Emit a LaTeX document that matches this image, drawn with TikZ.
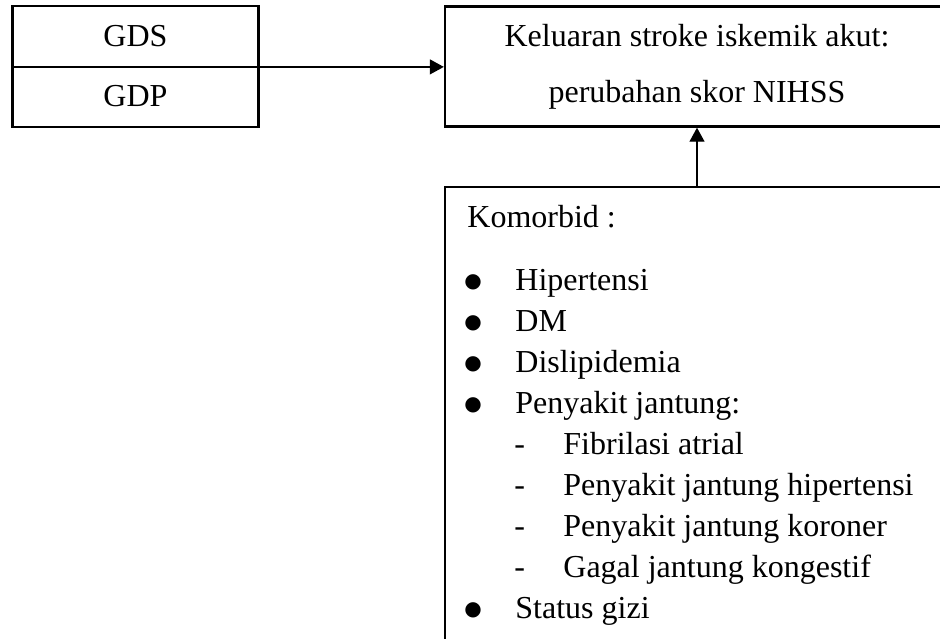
\documentclass[tikz,border=0pt]{standalone}
\usepackage{fontspec}
\setmainfont{Liberation Serif}
\newfontfamily\symfont{DejaVu Sans}
\usetikzlibrary{arrows.meta}

\tikzset{
  boxline/.style={draw, line width=1.2pt},
  txt/.style={inner sep=0pt, font=\fontsize{16}{19}\selectfont},
  bulletmark/.style={inner sep=0pt, anchor=center, font=\symfont\fontsize{10}{12}\selectfont},
  arr/.style={line width=0.6pt, -{Triangle[length=7pt,width=7.5pt]}}
}

\begin{document}
\begin{tikzpicture}[x=0.5pt,y=-0.5pt]

\useasboundingbox (0,0) rectangle (940,638);
\fill[white] (0,0) rectangle (940,638);
\clip (0,0) rectangle (940,638);

% gula darah
\node[txt, minimum width=122.5pt, minimum height=30pt] (gds) at (135.5,36.5) {GDS};
\node[txt, minimum width=122.5pt, minimum height=30pt] (gdp) at (135.5,96.5) {GDP};
\draw[boxline] (gds.north west) rectangle (gdp.south east);
\draw[line width=0.6pt] (gds.south west) -- (gds.south east);

% keluaran
\node[txt, boxline, minimum width=252pt, minimum height=60pt, align=center,
      font=\fontsize{16}{28}\selectfont] (outcome) at (697,66.5)
  {Keluaran stroke iskemik akut:\\perubahan skor NIHSS};

% komorbid
\node[boxline, minimum width=252pt, minimum height=240pt] (como) at (697,427) {};

\draw[arr] (gds.south east) -- (gds.south east -| outcome.west);
\draw[arr] (como.north) -- (outcome.south);

\node[txt, anchor=base west] (komorbid) at (467,227) {Komorbid :};

\foreach \i/\lbl in {0/Hipertensi, 1/DM, 2/Dislipidemia, 3/{Penyakit jantung:}, 8/{Status gizi}} {
  \node[bulletmark] (bul\i) at (473,{282+41*\i}) {●};
  \node[txt, anchor=base west] (item\i) at (515,{290+41*\i}) {\lbl};
}

\foreach \i/\lbl in {4/{Fibrilasi atrial}, 5/{Penyakit jantung hipertensi},
                     6/{Penyakit jantung koroner}, 7/{Gagal jantung kongestif}} {
  \node[txt, anchor=base west] (dash\i) at (514,{290+41*\i}) {-};
  \node[txt, anchor=base west] (sub\i) at (563,{290+41*\i}) {\lbl};
}

\end{tikzpicture}
\end{document}
